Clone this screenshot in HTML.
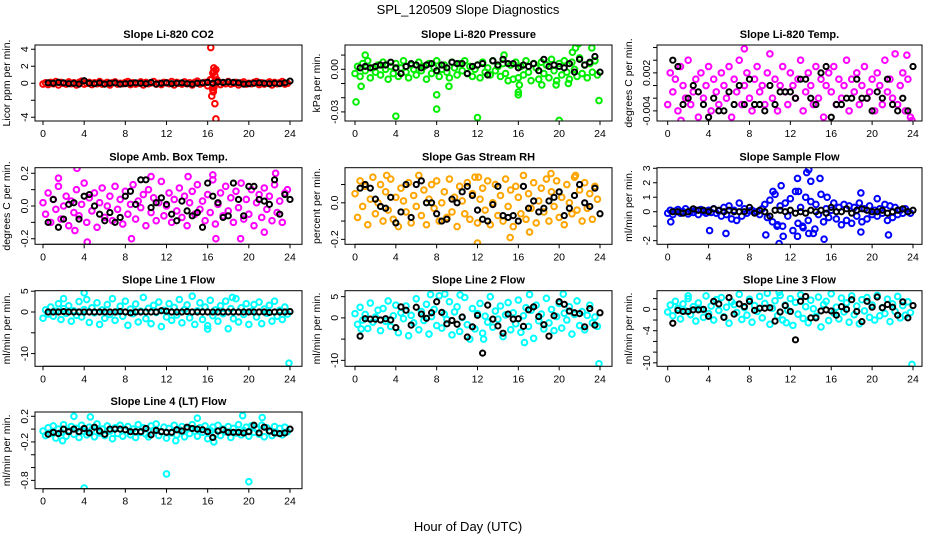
<!DOCTYPE html>
<html><head><meta charset="utf-8">
<style>
html,body{margin:0;padding:0;background:#fff;}
svg{display:block;font-family:"Liberation Sans",Helvetica,sans-serif;}
</style></head>
<body>
<svg id="chart" width="936" height="540" viewBox="0 0 936 540" xmlns="http://www.w3.org/2000/svg">
<rect x="0" y="0" width="936" height="540" fill="#fff"/>
<text x="468" y="14" text-anchor="middle" font-size="13">SPL_120509  Slope Diagnostics</text>
<text x="468" y="531" text-anchor="middle" font-size="13">Hour of Day (UTC)</text>
</svg>
<script>
const hours=[0,0.25,0.5,0.75,1,1.25,1.5,1.75,2,2.25,2.5,2.75,3,3.25,3.5,3.75,4,4.25,4.5,4.75,5,5.25,5.5,5.75,6,6.25,6.5,6.75,7,7.25,7.5,7.75,8,8.25,8.5,8.75,9,9.25,9.5,9.75,10,10.25,10.5,10.75,11,11.25,11.5,11.75,12,12.25,12.5,12.75,13,13.25,13.5,13.75,14,14.25,14.5,14.75,15,15.25,15.5,15.75,16,16.25,16.5,16.75,17,17.25,17.5,17.75,18,18.25,18.5,18.75,19,19.25,19.5,19.75,20,20.25,20.5,20.75,21,21.25,21.5,21.75,22,22.25,22.5,22.75,23,23.25,23.5,23.75];
const blackHours=[0.5,1,1.5,2,2.5,3,3.5,4,4.5,5,5.5,6,6.5,7,7.5,8,8.5,9,9.5,10,10.5,11,11.5,12,12.5,13,13.5,14,14.5,15,15.5,16,16.5,17,17.5,18,18.5,19,19.5,20,20.5,21,21.5,22,22.5,23,23.5,24];
const xTicks=[0,4,8,12,16,20,24];

const co2Vals=[-0.1,0.05,-0.15,0.1,-0.05,0.2,-0.2,0.1,0.0,-0.1,0.15,-0.05,0.05,-0.2,0.1,0.25,-0.1,0.0,0.1,-0.15,0.05,-0.05,0.2,-0.1,0.0,0.1,-0.2,0.05,0.15,-0.1,0.0,-0.05,0.1,0.2,-0.15,0.05,-0.1,0.0,0.15,-0.2,0.1,-0.05,0.05,0.2,-0.1,0.0,-0.15,0.1,0.05,-0.05,0.2,-0.2,0.1,0.0,-0.1,0.15,-0.05,0.05,-0.2,0.1,0.25,-0.1,0.0,0.1,-0.3,0.4,-0.5,0.3,0.2,-0.15,0.05,-0.05,0.2,-0.1,0.0,0.1,-0.2,0.05,0.15,-0.1,0.0,-0.05,0.1,0.2,-0.15,0.05,-0.1,0.0,0.15,-0.2,0.1,-0.05,0.05,0.2,-0.1,0.0];
const co2ExtraX=[16.3,16.4,16.5,16.5,16.6,16.6,16.7,16.7,16.8,16.8,16.9,16.4,16.6,16.55];
const co2ExtraY=[4.2,-1.5,1.2,-0.8,1.8,-0.5,0.9,-2.4,-4.2,1.6,0.4,0.5,1.4,-1.0];
const co2Black=[0.05,0.0,0.1,0.05,-0.05,0.0,-0.1,0.3,0.0,-0.05,0.05,-0.1,0.0,0.05,-0.1,-0.05,0.0,0.05,0.0,-0.05,0.1,-0.1,0.0,0.05,-0.05,0.0,0.05,-0.05,-0.1,0.0,0.05,0.1,0.0,0.15,0.1,0.15,0.1,0.05,-0.1,-0.05,0.0,0.05,0.0,-0.05,0.0,-0.05,0.05,0.25];
const co2Ticks=[-4,-2,0,2,4];
const co2TickLabels=["-4","","0","2","4"];

const presVals=[-0.003,0.002,-0.005,0.004,-0.001,0.006,-0.006,0.001,-0.002,0.003,-0.004,0.005,0.0,-0.007,0.002,-0.003,0.004,-0.005,0.001,0.006,-0.002,-0.006,0.003,0.0,-0.004,0.005,-0.001,0.002,-0.007,0.004,-0.003,0.001,0.006,-0.005,0.0,0.003,-0.002,-0.006,0.005,0.001,-0.004,0.004,-0.001,0.006,-0.003,0.002,-0.005,0.0,0.003,-0.006,0.005,-0.002,0.001,-0.004,0.006,-0.001,0.002,-0.005,0.004,-0.003,-0.008,0.003,-0.007,0.005,-0.006,0.002,-0.004,0.006,-0.002,-0.008,0.004,0.001,-0.007,0.005,-0.003,0.003,-0.006,0.007,-0.001,-0.008,0.004,-0.004,0.006,-0.002,-0.007,0.005,0.0,-0.005,0.008,-0.003,0.003,-0.006,0.004,-0.002,0.006,-0.004];
const presExtraX=[0.1,0.6,1.0,4,8,8,9.2,12,14.6,16,16,16.1,20,21.3,21.6,21.9,23.9,23.2,18.3,19.7,20.9];
const presExtraY=[-0.023,-0.012,0.010,-0.033,-0.018,-0.028,-0.012,-0.034,0.010,-0.018,-0.016,-0.011,-0.036,0.012,0.015,0.018,-0.022,0.015,-0.011,-0.011,-0.010];
const presBlack=[0.001,0.002,0.001,0.002,0.003,0.003,0.005,0.001,-0.003,0.002,0.004,0.003,0.001,0.003,0.004,-0.001,0.003,0.001,0.005,0.004,0.004,-0.003,0.002,0.003,0.004,-0.004,0.006,0.003,0.007,0.004,0.004,0.001,0.003,0.002,0.004,-0.001,0.007,0.002,0.003,0.002,0.001,0.004,-0.002,0.007,0.003,0.005,0.009,-0.002];
const presTicks=[-0.03,-0.02,-0.01,0,0.01];
const presTickLabels=["-0.03","","","0.00",""];

const licTempVals=[-0.003,0.002,-0.001,0.001,-0.004,0.003,0.0,-0.002,0.004,-0.003,-0.001,0.001,-0.005,0.002,-0.002,0.0,0.003,-0.004,0.001,-0.001,-0.003,0.002,0.0,-0.002,0.003,-0.005,0.001,-0.001,0.004,-0.003,0.0,0.002,-0.002,-0.004,0.001,0.003,-0.001,0.0,-0.003,0.002,0.005,-0.002,0.001,-0.004,0.0,0.003,-0.001,-0.003,0.002,0.0,-0.002,0.001,0.004,-0.004,-0.001,0.002,0.0,-0.003,0.003,-0.002,0.001,-0.005,0.0,0.002,-0.001,0.003,-0.003,0.001,-0.002,0.0,0.004,-0.004,0.001,-0.001,0.002,-0.003,0.0,0.003,-0.002,-0.001,0.001,-0.004,0.002,0.0,-0.003,0.004,-0.001,0.001,-0.002,0.005,-0.003,0.0,0.002,-0.004,0.001,-0.005];
const licTempExtraX=[1.3,7.5,23.9,23.4];
const licTempExtraY=[-0.0055,0.0058,-0.0055,0.0048];
const licTempBlack=[0.004,0.003,-0.003,-0.002,0.0,-0.001,-0.003,-0.005,-0.002,-0.004,-0.004,-0.001,-0.003,0.0,-0.003,0.001,-0.003,-0.003,-0.004,0.0,-0.003,-0.001,-0.001,-0.001,-0.002,0.001,0.001,-0.002,-0.003,0.002,0.003,-0.005,-0.003,-0.003,-0.002,-0.002,0.001,-0.002,-0.002,-0.004,-0.001,-0.002,0.001,-0.003,-0.004,-0.002,-0.004,0.003];
const licTempTicks=[-0.004,-0.002,0,0.002,0.004,0.006];
const licTempTickLabels=["-0.004","","","0.002","",""];

const ambVals=[0.02,-0.05,0.08,-0.1,0.04,-0.02,0.12,-0.08,0.0,0.06,-0.12,0.03,-0.04,0.1,-0.06,0.01,0.14,-0.1,0.05,-0.03,0.08,-0.13,0.02,0.11,-0.07,0.0,0.06,-0.09,0.12,-0.02,0.04,-0.11,0.09,-0.05,0.01,0.13,-0.08,0.03,-0.01,0.07,-0.12,0.1,-0.04,0.05,-0.09,0.02,0.15,-0.06,0.0,0.08,-0.1,0.04,-0.03,0.11,-0.07,0.06,-0.12,0.02,0.09,-0.05,0.13,-0.02,0.03,-0.09,0.07,-0.04,0.16,-0.11,0.01,0.08,-0.06,0.12,-0.03,0.05,-0.1,0.09,-0.01,0.14,-0.08,0.04,-0.05,0.1,-0.12,0.02,0.07,-0.07,0.11,-0.02,0.06,-0.09,0.13,-0.04,0.03,-0.1,0.08,0.1];
const ambExtraX=[1.5,3.3,4.3,8.6,3.1,14.1,16.5,21.5,19.2,22.6,10.5,16.8];
const ambExtraY=[0.17,0.23,-0.22,-0.2,-0.15,0.18,0.19,-0.16,-0.2,0.2,0.18,-0.2];
const ambBlack=[-0.1,0.04,-0.13,-0.08,0.01,0.02,-0.08,0.06,0.07,0.0,-0.05,-0.09,-0.04,-0.1,-0.07,0.06,0.09,0.01,0.16,0.16,-0.01,0.02,0.05,0.01,-0.05,-0.09,0.03,-0.03,-0.06,-0.04,-0.13,0.14,0.06,0.02,-0.07,-0.06,0.14,0.04,-0.06,0.12,0.12,0.04,0.03,0.01,0.16,-0.05,0.07,0.04];
const ambTicks=[-0.2,-0.1,0,0.1,0.2];
const ambTickLabels=["-0.2","","0.0","","0.2"];

const rhVals=[0.05,-0.08,0.12,-0.02,0.09,-0.12,0.02,0.14,-0.06,0.0,0.1,-0.1,0.06,-0.04,0.13,-0.09,0.03,-0.13,0.08,0.01,-0.05,0.11,-0.11,0.04,-0.02,0.15,-0.07,0.07,-0.12,0.02,0.1,-0.03,0.12,-0.1,0.0,0.06,-0.08,0.13,-0.05,0.03,-0.13,0.09,0.01,-0.06,0.11,-0.09,0.05,0.14,-0.11,0.02,0.08,-0.04,0.12,-0.12,0.0,0.1,-0.07,0.04,-0.1,0.13,-0.02,0.07,-0.13,0.09,0.03,-0.06,0.15,-0.09,0.05,-0.03,0.11,-0.11,0.01,0.08,-0.05,0.13,-0.1,0.06,-0.02,0.12,-0.08,0.03,-0.12,0.1,0.0,-0.06,0.14,-0.04,0.07,-0.1,0.11,-0.03,0.05,-0.09,0.09,0.02];
const rhExtraX=[14.1,12,15.2,17.1,3.1,12.1,19.2,21.6];
const rhExtraY=[0.21,-0.22,-0.19,-0.16,0.15,0.14,0.16,0.15];
const rhBlack=[0.08,0.1,0.08,0.02,-0.02,-0.03,0.03,-0.11,-0.05,0.1,-0.08,0.1,0.12,0.0,0.0,-0.06,-0.1,-0.09,0.02,0.0,0.06,0.09,0.04,-0.04,-0.09,-0.1,-0.01,0.09,-0.07,-0.08,-0.07,-0.1,0.09,-0.03,0.01,-0.05,-0.03,0.01,0.03,0.06,-0.07,-0.03,0.04,0.1,0.0,-0.02,0.08,-0.06];
const rhTicks=[-0.2,-0.1,0,0.1];
const rhTickLabels=["-0.2","","0.0",""];

const sampleVals=[-0.1,0.1,-0.2,0.05,0.15,-0.1,0.0,0.2,-0.15,0.05,-0.05,0.1,-0.2,0.15,0.0,-0.1,0.1,-0.05,0.2,-0.1,0.05,-0.3,0.3,-0.2,0.4,-0.5,0.1,-0.6,0.6,-0.3,0.2,-0.1,0.05,0.1,-0.05,0.0,-0.2,0.2,0.5,-0.4,0.8,-0.7,1.2,-0.9,0.4,-1.0,0.6,-0.3,0.9,-1.3,1.4,-0.8,0.3,-1.1,1.0,-0.6,0.7,-1.5,0.5,-0.2,1.2,-0.7,0.2,-0.4,0.1,0.6,-0.5,0.3,-0.9,0.5,-0.6,0.4,-0.8,0.3,-0.3,0.6,-0.7,0.2,-0.5,0.4,-0.2,0.1,-0.3,0.2,-0.1,0.5,-0.6,0.4,-0.4,0.3,-0.2,0.1,-0.1,0.2,0.0,-0.1];
const sampleExtraX=[0.3,4.1,5.7,9.6,10.9,11.3,11.1,12.7,12.7,13.6,13.8,14.0,14.9,15.3,15.6,18.9,18.9,21.6,20.5,13.2,13.8,14.4,12.8,10.3,10.7];
const sampleExtraY=[-0.7,-1.3,-1.5,-1.6,-2.2,-1.7,1.8,2.3,-1.7,2.7,2.9,2.1,2.3,-1.9,1.0,1.3,-1.4,-1.6,0.9,-1.0,-1.5,-1.2,1.4,1.4,-1.0];
const sampleBlack=[0.0,0.0,-0.1,0.0,0.2,0.1,0.1,0.0,0.2,0.1,0.0,0.1,0.0,0.0,0.0,0.3,-0.1,0.1,0.0,-0.3,0.1,0.1,0.0,0.1,-0.1,0.0,-0.1,0.1,0.0,0.1,-0.1,0.3,0.0,0.0,0.2,-0.1,0.1,0.2,0.1,0.0,0.0,0.1,-0.1,0.0,0.1,0.2,0.0,0.1];
const sampleTicks=[-2,-1,0,1,2,3];
const sampleTickLabels=["-2","","0","1","2","3"];

const line1Vals=[-1.5,0.5,-0.5,1.2,-1.0,0.2,2.0,-1.8,0.8,-0.3,1.5,-2.2,0.3,-0.8,2.5,-1.2,0.6,3.0,-2.5,1.0,-0.2,2.2,-3.0,0.5,-1.5,1.8,-0.6,3.2,-2.0,0.1,1.4,-1.0,2.6,-3.2,0.7,-0.4,1.9,-2.4,0.2,3.5,-1.6,0.9,-2.8,1.6,-0.1,2.4,-3.5,0.4,-1.2,2.0,-2.0,1.1,-0.7,3.0,-2.6,0.6,1.7,-1.4,3.8,-3.0,0.3,2.2,-1.8,1.2,-3.3,2.8,-0.9,0.5,-2.2,1.5,-0.4,2.6,-4.0,0.8,-1.6,3.2,-2.4,1.0,-0.6,2.0,-3.0,0.2,1.8,-1.2,2.4,-2.8,0.7,-0.3,1.6,-2.2,2.6,-1.0,0.4,-1.8,1.2,-0.5];
const line1ExtraX=[23.9,4,2,16,18.4];
const line1ExtraY=[-12.3,4.6,3.2,-4.1,3.5];
const line1Black=[0,0,0,0.1,0,0,0,0,0,0,0,0,0,0,0.1,0,-0.2,0,0,0,0,0,0.3,0.2,0,0,0,0.1,0,0,0,0,0,0,0,0,0,0,0,0,0,0,0,-0.1,0,0,0,0.1];
const line1Ticks=[-10,-5,0,5];
const line1TickLabels=["-10","","0","5"];

const line2Vals=[1.0,-1.5,2.5,-0.5,0.8,-2.5,3.5,-1.0,0.2,1.8,-3.0,2.2,-0.8,4.0,-2.0,0.5,3.0,-3.5,1.2,-0.2,2.8,-4.2,0.6,-1.2,4.5,-2.8,1.5,-0.6,3.2,-3.8,0.3,2.0,-1.8,5.2,-2.4,0.9,-0.4,3.8,-4.0,1.4,2.6,-3.2,0.1,4.8,-1.6,-5.0,2.2,-2.6,1.0,3.4,-3.6,0.4,-1.0,5.0,-2.2,1.6,-0.3,2.8,-4.4,0.7,3.6,-2.8,1.2,-1.4,4.2,-3.4,0.5,2.4,-2.0,1.8,-4.8,3.0,-0.7,0.9,-2.6,4.6,-1.2,2.0,-3.0,0.3,3.4,-2.4,1.1,-0.5,2.6,-3.8,0.8,4.0,-1.8,1.5,-2.8,0.6,3.0,-1.2,0.2,-2.0];
const line2ExtraX=[23.9,0.6,7.4,8.8,10.3,12.6,16.6,17.1,20.4];
const line2ExtraY=[-10.8,-2.6,5.5,5.6,5.4,-5.0,-5.8,5.5,5.6];
const line2Black=[-4.3,-0.2,-0.3,-0.3,-0.5,-0.2,-0.5,-2.3,2.6,1.8,-1.7,2.5,0.9,-0.1,1.2,3.8,1.3,-1.4,-0.6,-1.5,0.2,-4.5,-2.1,0.6,-8.3,3.0,-0.3,-1.9,-3.6,0.9,-0.3,-0.2,-2.0,1.9,2.6,0.3,-1.6,-4.3,0.5,3.8,3.2,1.6,1.2,1.0,-2.1,2.2,-1.7,1.2];
const line2Ticks=[-10,-5,0,5];
const line2TickLabels=["-10","","0","5"];

const line3Vals=[-0.5,0.8,-1.2,1.5,0.2,-1.8,1.0,-0.3,2.0,-1.0,0.5,-2.2,1.2,0.0,-1.5,2.5,-0.8,0.6,-2.0,1.8,-0.2,2.2,-1.4,0.4,-2.6,1.4,0.9,-0.6,2.8,-1.9,0.3,-1.1,1.9,-2.4,0.7,-0.4,2.4,-1.6,1.1,3.0,-2.8,0.2,1.6,-1.2,2.6,-2.0,0.8,-0.2,2.0,-3.0,1.3,-0.9,2.7,-1.7,0.5,-2.5,1.7,0.1,-1.3,2.3,-3.3,0.9,1.5,-2.1,2.9,-0.7,0.4,-1.8,2.1,-0.5,1.2,-2.4,2.5,-1.0,0.6,-2.7,1.8,-0.3,2.2,-1.5,0.8,-2.0,2.6,-1.2,0.3,-0.8,1.9,-2.3,1.0,-0.4,2.4,-1.6,0.7,-1.1,1.4,-0.6];
const line3ExtraX=[23.9,2,10.9,11.6];
const line3ExtraY=[-10.3,2.5,3.2,-2.5];
const line3Black=[-2.6,-0.2,-0.4,-0.4,-0.1,-0.1,0.0,-1.3,1.5,1.0,-1.5,2.2,-0.9,1.0,0.5,1.5,-0.2,0.2,0.2,0.3,-2.2,-0.5,0.7,-0.4,-5.7,1.5,2.4,-1.6,-1.6,-0.3,-0.1,-0.3,-1.1,0.5,0.0,1.8,-0.4,-2.3,1.5,0.4,2.3,0.3,0.9,0.4,-1.1,1.4,-1.6,0.7];
const line3Ticks=[-10,-8,-6,-4,-2,0,2];
const line3TickLabels=["-10","","","-4","","0",""];

const line4Vals=[-0.03,-0.1,0.02,-0.07,0.05,-0.14,0.0,-0.05,0.07,-0.11,-0.02,0.04,-0.08,0.01,-0.13,0.06,-0.04,-0.09,0.03,-0.01,-0.12,0.08,-0.06,0.0,-0.1,0.05,-0.03,-0.15,0.02,-0.07,0.06,-0.11,-0.01,0.04,-0.09,0.0,-0.13,0.07,-0.05,0.02,-0.08,-0.12,0.05,-0.02,0.08,-0.1,-0.04,0.03,-0.14,0.01,-0.06,0.06,-0.09,-0.01,0.04,-0.12,0.0,-0.07,0.07,-0.03,-0.11,0.02,-0.05,0.05,-0.15,-0.02,0.03,-0.08,0.06,-0.1,0.0,-0.04,0.04,-0.13,0.01,-0.06,0.07,-0.09,-0.02,0.03,-0.11,0.05,-0.05,0.0,-0.08,0.06,-0.12,0.02,-0.03,-0.1,0.04,-0.06,0.01,-0.09,0.03,-0.04];
const line4ExtraX=[4,12,20,3,4.6,19.4,15,21.3,1.9,16.6,12.9];
const line4ExtraY=[-0.92,-0.7,-0.82,0.2,0.19,0.21,0.17,0.18,-0.18,-0.2,-0.18];
const line4Black=[-0.08,-0.05,-0.07,0.0,-0.04,0.0,-0.04,0.01,-0.06,0.03,-0.03,-0.08,0.0,0.0,0.0,-0.01,-0.04,-0.04,-0.04,0.01,-0.09,-0.02,-0.04,-0.05,-0.05,-0.01,-0.03,0.03,0.01,0.0,-0.01,-0.04,-0.13,-0.03,-0.01,-0.05,-0.05,-0.05,-0.06,-0.04,0.06,-0.06,0.03,-0.03,-0.06,-0.07,-0.06,0.0];
const line4Ticks=[-0.8,-0.6,-0.4,-0.2,0,0.2];
const line4TickLabels=["-0.8","","","-0.2","","0.2"];

// layout (not data)
const cols=[{l:35,r:302,x0:43,x24:290},{l:345,r:612,x0:355,x24:600},{l:657,r:922,x0:667.7,x24:913}];
const rows=[{t:45,b:121},{t:167.7,b:244.3},{t:290.7,b:366.3},{t:412,b:488.7}];
const panels=[
 {name:"co2",title:"Slope Li-820 CO2",ylab:"Licor ppm per min.",c:0,r:0,ymin:-4.44,ymax:4.5,col:"#ff0000",vals:co2Vals,ex:co2ExtraX,ey:co2ExtraY,blk:co2Black,ticks:co2Ticks,tl:co2TickLabels},
 {name:"pressure",title:"Slope Li-820 Pressure",ylab:"kPa per min.",c:1,r:0,ymin:-0.0364,ymax:0.0171,col:"#00ee00",vals:presVals,ex:presExtraX,ey:presExtraY,blk:presBlack,ticks:presTicks,tl:presTickLabels},
 {name:"li820-temp",title:"Slope Li-820 Temp.",ylab:"degrees C per min.",c:2,r:0,ymin:-0.0056,ymax:0.0064,col:"#ff00ff",vals:licTempVals,ex:licTempExtraX,ey:licTempExtraY,blk:licTempBlack,ticks:licTempTicks,tl:licTempTickLabels},
 {name:"amb-box-temp",title:"Slope Amb. Box Temp.",ylab:"degrees C per min.",c:0,r:1,ymin:-0.234,ymax:0.234,col:"#ff00ff",vals:ambVals,ex:ambExtraX,ey:ambExtraY,blk:ambBlack,ticks:ambTicks,tl:ambTickLabels},
 {name:"gas-stream-rh",title:"Slope Gas Stream RH",ylab:"percent per min.",c:1,r:1,ymin:-0.227,ymax:0.192,col:"#ffa500",vals:rhVals,ex:rhExtraX,ey:rhExtraY,blk:rhBlack,ticks:rhTicks,tl:rhTickLabels},
 {name:"sample-flow",title:"Slope Sample Flow",ylab:"ml/min per min.",c:2,r:1,ymin:-2.25,ymax:3.04,col:"#0000ff",vals:sampleVals,ex:sampleExtraX,ey:sampleExtraY,blk:sampleBlack,ticks:sampleTicks,tl:sampleTickLabels},
 {name:"line1-flow",title:"Slope Line 1 Flow",ylab:"ml/min per min.",c:0,r:2,ymin:-13.05,ymax:5.12,col:"#00ffff",vals:line1Vals,ex:line1ExtraX,ey:line1ExtraY,blk:line1Black,ticks:line1Ticks,tl:line1TickLabels},
 {name:"line2-flow",title:"Slope Line 2 Flow",ylab:"ml/min per min.",c:1,r:2,ymin:-11.4,ymax:6.4,col:"#00ffff",vals:line2Vals,ex:line2ExtraX,ey:line2ExtraY,blk:line2Black,ticks:line2Ticks,tl:line2TickLabels},
 {name:"line3-flow",title:"Slope Line 3 Flow",ylab:"ml/min per min.",c:2,r:2,ymin:-10.65,ymax:3.48,col:"#00ffff",vals:line3Vals,ex:line3ExtraX,ey:line3ExtraY,blk:line3Black,ticks:line3Ticks,tl:line3TickLabels},
 {name:"line4-flow",title:"Slope Line 4 (LT) Flow",ylab:"ml/min per min.",c:0,r:3,ymin:-0.93,ymax:0.267,col:"#00ffff",vals:line4Vals,ex:line4ExtraX,ey:line4ExtraY,blk:line4Black,ticks:line4Ticks,tl:line4TickLabels}
];
const NS="http://www.w3.org/2000/svg";
const svg=document.getElementById('chart');
function mk(tag,attrs,parent,text){const e=document.createElementNS(NS,tag);for(const k in attrs)e.setAttribute(k,attrs[k]);if(text!==undefined)e.textContent=text;parent.appendChild(e);return e;}
panels.forEach(p=>{
 const C=cols[p.c],R=rows[p.r];
 const xs=h=>C.x0+(C.x24-C.x0)*h/24;
 const ys=v=>R.b-(v-p.ymin)/(p.ymax-p.ymin)*(R.b-R.t);
 const g=mk('g',{},svg);
 
 
 const cp=mk('clipPath',{id:'clip-'+p.name},g);
 mk('rect',{x:C.l,y:R.t,width:C.r-C.l,height:R.b-R.t},cp);
 const t=mk('text',{x:(C.l+C.r)/2,y:R.t-7,'text-anchor':'middle','font-size':11,'font-weight':'bold'},g,p.title);
 
 
 const pts=mk('g',{'clip-path':'url(#clip-'+p.name+')',fill:'none','stroke-width':2},g);
 
 
 p.vals.forEach((v,i)=>{if(i>=hours.length)return;
  const c=mk('circle',{cx:xs(hours[i]),cy:ys(v),r:2.8,stroke:p.col},pts);
  
  });
 p.ex.forEach((h,i)=>{
  const c=mk('circle',{cx:xs(h),cy:ys(p.ey[i]),r:2.8,stroke:p.col},pts);
  
  });
 p.blk.forEach((v,i)=>{if(i>=blackHours.length)return;
  const c=mk('circle',{cx:xs(blackHours[i]),cy:ys(v),r:2.6,stroke:'#000'},pts);
  
  });
 const box=mk('rect',{x:C.l,y:R.t,width:C.r-C.l,height:R.b-R.t,fill:'none',stroke:'#000','stroke-width':1},g);
 
 
 const xa=mk('g',{},g);
 
 
 mk('line',{x1:xs(0),x2:xs(24),y1:R.b,y2:R.b,stroke:'#000'},xa);
 xTicks.forEach(h=>{mk('line',{x1:xs(h),x2:xs(h),y1:R.b,y2:R.b+4,stroke:'#000'},xa);
  const tx=mk('text',{x:xs(h),y:R.b+16,'text-anchor':'middle','font-size':10.5},xa,String(h));
  
  });
 const ya=mk('g',{},g);
 
 
 mk('line',{x1:C.l,x2:C.l,y1:ys(p.ticks[0]),y2:ys(p.ticks[p.ticks.length-1]),stroke:'#000'},ya);
 p.ticks.forEach((v,i)=>{const y=ys(v);mk('line',{x1:C.l-4,x2:C.l,y1:y,y2:y,stroke:'#000'},ya);
  if(p.tl[i]){const tx=mk('text',{x:C.l-7,y:y,'text-anchor':'middle','font-size':10.5,transform:'rotate(-90 '+(C.l-7)+' '+y+')'},ya,p.tl[i]);
  
  }});
 const my=(R.t+R.b)/2,lx=C.l-25;
 const yl=mk('text',{x:lx,y:my,'text-anchor':'middle','font-size':10.5,transform:'rotate(-90 '+lx+' '+my+')'},g,p.ylab);
 
 
});
</script>
</body></html>
